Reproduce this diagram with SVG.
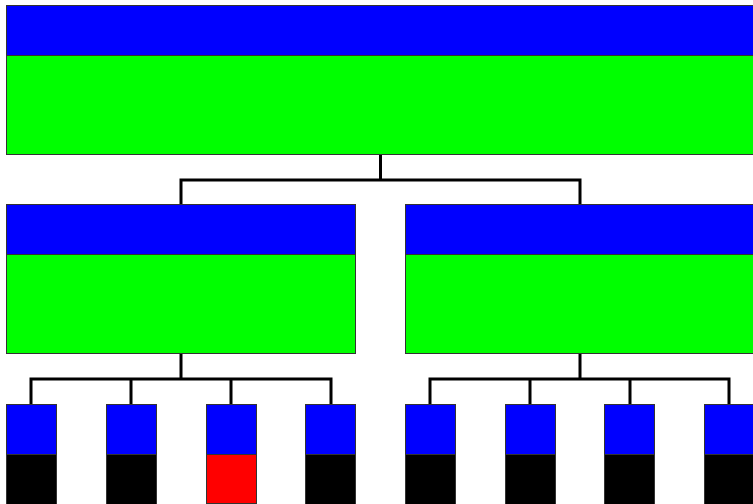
<svg xmlns="http://www.w3.org/2000/svg" width="753" height="504" viewBox="0 0 753 504">
<style>
.h{fill:#0000ff;stroke:#333;stroke-width:1}
.b{fill:#00ff00;stroke:#333;stroke-width:1}
.k{fill:#000;stroke:#333;stroke-width:1}
.r{fill:#ff0000;stroke:#333;stroke-width:1}
.c{fill:none;stroke:#000;stroke-width:3}
</style>
<rect width="753" height="504" fill="#fff"/>
<g id="connectors">
<path class="c" d="M380.5,155 V180 M181,180 H580.5 M181,178.5 V205 M580,178.5 V205"/>
<path class="c" d="M181,354 V379 M31,379 H331.5 M31,377.5 V404 M131,377.5 V404 M231,377.5 V404 M331,377.5 V404"/>
<path class="c" d="M580,354 V379 M429.5,379 H730 M430,377.5 V404 M530,377.5 V404 M630,377.5 V404 M729,377.5 V404"/>
</g>
<g id="root"><rect class="h" x="6.5" y="5.5" width="750" height="50"/><rect class="b" x="6.5" y="55.5" width="750" height="99"/></g>
<g id="left"><rect class="h" x="6.5" y="204.5" width="349" height="50"/><rect class="b" x="6.5" y="254.5" width="349" height="99"/></g>
<g id="right"><rect class="h" x="405.5" y="204.5" width="350" height="50"/><rect class="b" x="405.5" y="254.5" width="350" height="99"/></g>
<g id="l1"><rect class="h" x="6.5" y="404.5" width="50" height="50"/><rect class="k" x="6.5" y="454.5" width="50" height="52"/></g>
<g id="l2"><rect class="h" x="106.5" y="404.5" width="50" height="50"/><rect class="k" x="106.5" y="454.5" width="50" height="52"/></g>
<g id="l3"><rect class="h" x="206.5" y="404.5" width="50" height="50"/><rect class="r" x="206.5" y="454.5" width="50" height="49"/></g>
<g id="l4"><rect class="h" x="305.5" y="404.5" width="50" height="50"/><rect class="k" x="305.5" y="454.5" width="50" height="52"/></g>
<g id="r1"><rect class="h" x="405.5" y="404.5" width="50" height="50"/><rect class="k" x="405.5" y="454.5" width="50" height="52"/></g>
<g id="r2"><rect class="h" x="505.5" y="404.5" width="50" height="50"/><rect class="k" x="505.5" y="454.5" width="50" height="52"/></g>
<g id="r3"><rect class="h" x="604.5" y="404.5" width="50" height="50"/><rect class="k" x="604.5" y="454.5" width="50" height="52"/></g>
<g id="r4"><rect class="h" x="704.5" y="404.5" width="50" height="50"/><rect class="k" x="704.5" y="454.5" width="50" height="52"/></g>
</svg>
